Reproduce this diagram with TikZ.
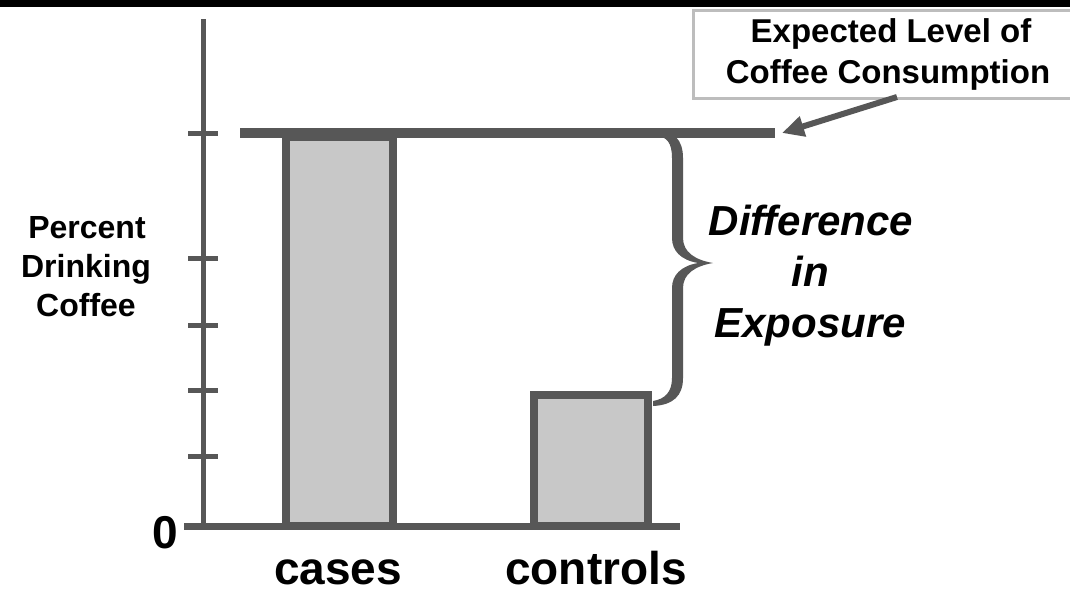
\documentclass[tikz,border=0pt]{standalone}
\usepackage{fontspec}
\setmainfont{Liberation Sans}
\usetikzlibrary{arrows.meta}
\definecolor{bargray}{HTML}{C8C8C8}
\definecolor{inkgray}{HTML}{575757}
\definecolor{framegray}{HTML}{BDBDBD}
\begin{document}
\begin{tikzpicture}[x=1pt,y=-1pt,
  axisline/.style={draw=inkgray,line width=5pt},
  tickmark/.style={draw=inkgray,line width=5pt},
  barbox/.style={draw=inkgray,fill=bargray,line width=8pt},
  levelline/.style={draw=inkgray,line width=10pt},
  callout/.style={draw=inkgray,line width=6pt,-{Triangle[length=22pt,width=20pt]}},
  smalllbl/.style={inner sep=0pt,anchor=base,font=\fontsize{32}{32}\selectfont\bfseries},
  boxlbl/.style={inner sep=0pt,anchor=base,font=\fontsize{33}{33}\selectfont\bfseries},
  biglbl/.style={inner sep=0pt,anchor=base,text depth=0pt,font=\fontsize{46}{46}\selectfont\bfseries},
  difflbl/.style={inner sep=0pt,anchor=base,font=\fontsize{42}{42}\selectfont\bfseries\itshape},
]
\useasboundingbox (0,0) rectangle (1070,592);
\fill[white] (0,0) rectangle (1070,592);
% dark strip along the top edge
\fill[black] (0,0) rectangle (1070,7);

% label box (open on the right)
\draw[framegray,line width=3pt] (1072,10) -- (693,10) -- (693,98) -- (1072,98);
\node[boxlbl] (explbl1) at (891,42) {Expected Level of};
\node[boxlbl] (explbl2) at (888,83) {Coffee Consumption};

% bars
\draw[barbox] (286,137) rectangle (393,526);
\draw[barbox] (534,395) rectangle (648,526);

% axes and ticks
\draw[axisline] (203,19) -- (203,526);
\foreach \ty in {133,258,325,390,456}
  \draw[tickmark] (188,\ty) -- (218,\ty);
\draw[axisline,line width=7pt] (184,526) -- (680,526);

% expected level line and callout arrow
\coordinate (lvlL) at (240,133);
\coordinate (lvlR) at (775,133);
\draw[levelline] (lvlL) -- (lvlR);
\coordinate (arrfrom) at (897,97);
\coordinate (arrto) at (782,133);
\draw[callout] (arrfrom) -- (arrto);

% curly brace between the level line and the controls bar
\fill[inkgray]
  (655,130) .. controls (674,130) and (683,140) .. (683,158)
  -- (683,238) .. controls (683,252) and (695,260) .. (713,263)
  .. controls (695,266) and (683,274) .. (683,288)
  -- (683,378) .. controls (683,396) and (673,405) .. (653,406)
  -- (653,401) .. controls (665,399) and (672,392) .. (672,378)
  -- (672,288) .. controls (672,275) and (681,266) .. (698,263)
  .. controls (681,260) and (672,251) .. (672,238)
  -- (672,158) .. controls (672,143) and (667,136) .. (655,136) -- cycle;

% labels
\node[difflbl] (diff1) at (811,235) {Difference};
\node[difflbl] (diff2) at (810,286) {in};
\node[difflbl] (diff3) at (810,337) {Exposure};

\node[smalllbl] (ylbl1) at (87,238) {Percent};
\node[smalllbl] (ylbl2) at (86,277) {Drinking};
\node[smalllbl] (ylbl3) at (86,316) {Coffee};

\node[biglbl] (zero) at (165,548) {0};
\node[biglbl] (cases) at (338,584) {cases};
\node[biglbl] (controls) at (596,584) {controls};
\end{tikzpicture}
\end{document}
